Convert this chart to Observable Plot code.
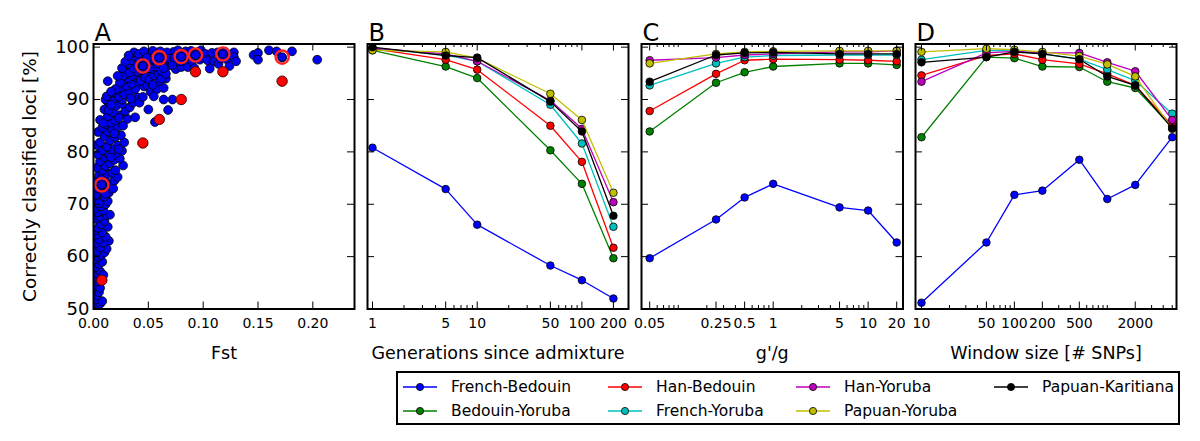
<!DOCTYPE html>
<html><head><meta charset="utf-8">
<script src="https://cdn.jsdelivr.net/npm/d3@7"></script>
<script src="https://cdn.jsdelivr.net/npm/@observablehq/plot@0.6"></script>
<style>
body{margin:0;background:#fff;font-family:"DejaVu Sans",sans-serif;}
#root{position:relative;width:1200px;height:441px;overflow:hidden;background:#fff;}
.panel{position:absolute;top:0;}
#legend{position:absolute;left:396px;top:371px;width:784px;height:54px;box-sizing:border-box;border:2px solid #000;}
.item{position:absolute;height:20px;display:flex;align-items:center;font-size:15.5px;white-space:nowrap;color:#000;}
.item svg{margin-right:14px;}
</style></head><body><div id="root"><div id="legend"></div></div>
<script>
// ---------------- data ----------------
const seriesNames = ["French-Bedouin","Bedouin-Yoruba","Han-Bedouin","French-Yoruba","Han-Yoruba","Papuan-Yoruba","Papuan-Karitiana"];
const palette = ["#0000ff","#008000","#ff0000","#00bfbf","#bf00bf","#bfbf00","#000000"];

const yTicks = [50,60,70,80,90,100];

// Panel A: Fst vs accuracy
const fstTicks = [0,0.05,0.10,0.15,0.20];
const scatterPoints = [
[0.001,50.5],[0.004,50.8],[0.006,51.0],[0.002,51.8],[0.008,51.5],[0.003,52.6],[0.001,53.5],[0.005,53.2],[0.002,54.4],[0.006,54.0],
[0.004,55.3],[0.001,56.0],[0.003,56.8],[0.006,57.2],[0.002,58.0],[0.005,58.6],[0.008,59.0],[0.001,59.5],[0.004,60.0],[0.007,60.3],
[0.009,56.5],[0.007,62.0],[0.014,63.0],
[0.003,61.0],[0.010,60.8],[0.012,61.5],[0.006,61.8],[0.002,62.5],[0.009,62.7],[0.005,63.3],[0.011,63.8],[0.003,64.2],[0.008,64.6],
[0.001,65.0],[0.004,65.5],[0.013,65.7],[0.007,66.2],[0.010,66.8],[0.002,67.2],[0.006,67.6],[0.012,67.9],[0.015,68.0],[0.004,68.5],
[0.009,68.8],[0.001,69.2],[0.007,69.6],[0.011,70.0],
[0.003,70.4],[0.013,70.6],[0.006,71.0],[0.010,71.5],[0.002,71.8],[0.014,72.2],[0.008,72.6],[0.004,73.0],[0.012,73.3],[0.008,73.7],
[0.016,74.0],[0.002,74.4],[0.010,74.7],[0.019,74.5],[0.022,75.2],[0.005,75.5],[0.013,75.8],[0.017,76.0],[0.008,76.5],[0.020,76.5],
[0.003,77.0],[0.011,77.3],[0.027,77.4],[0.015,77.8],[0.006,78.2],[0.019,78.5],[0.024,78.7],[0.010,79.0],[0.004,79.5],[0.014,79.5],
[0.021,79.8],[0.005,70.2],[0.011,72.0],[0.018,73.0],[0.007,74.8],[0.016,79.0],
[0.026,80.2],[0.008,80.3],[0.017,80.5],[0.012,81.0],[0.003,81.3],[0.022,81.2],[0.028,81.8],[0.006,81.8],[0.015,82.2],[0.020,82.8],
[0.010,83.0],[0.025,83.2],[0.004,83.8],[0.013,83.9],[0.017,84.3],[0.008,84.6],[0.022,84.8],[0.027,85.0],[0.011,85.3],[0.016,85.6],
[0.020,86.0],[0.031,86.3],[0.038,86.6],[0.006,86.1],[0.013,86.8],[0.024,87.0],[0.018,87.5],[0.029,87.8],[0.010,88.1],[0.015,88.6],
[0.021,88.8],[0.033,88.5],[0.026,89.2],[0.013,89.6],[0.018,90.0],[0.036,89.4],[0.014,88.0],[0.011,90.0],
[0.023,80.5],[0.019,83.5],[0.009,85.5],[0.023,86.5],[0.016,89.0],[0.026,90.0],
[0.040,90.4],[0.012,90.6],[0.023,90.5],[0.028,91.0],[0.017,91.3],[0.033,91.5],[0.021,91.8],[0.038,92.0],[0.025,92.3],[0.030,92.6],
[0.035,93.0],[0.013,93.5],[0.042,93.2],[0.028,93.8],[0.046,92.5],[0.032,94.0],[0.038,94.3],[0.044,94.0],[0.030,94.8],[0.049,92.7],
[0.052,91.5],[0.058,92.0],[0.064,92.2],[0.055,90.6],[0.050,88.1],[0.068,88.0],[0.064,90.0],[0.072,90.0],[0.056,85.7],[0.042,89.4],
[0.045,90.5],[0.060,93.5],[0.066,94.0],[0.048,95.0],[0.035,94.5],[0.039,95.4],[0.043,93.6],[0.047,94.2],[0.051,93.8],[0.055,94.6],
[0.059,95.0],[0.062,94.0],[0.054,92.8],[0.027,94.5],[0.024,93.2],[0.020,92.0],[0.016,91.5],[0.022,94.5],[0.034,90.2],
[0.030,95.8],[0.033,95.2],[0.036,96.0],[0.031,96.8],[0.034,97.5],[0.038,98.2],[0.040,96.5],[0.042,97.8],[0.044,95.6],[0.045,96.4],
[0.047,98.6],[0.050,97.0],[0.052,98.9],[0.053,95.8],[0.055,97.6],[0.057,96.3],[0.058,99.0],[0.060,98.0],[0.062,95.5],[0.063,97.1],
[0.065,98.6],[0.066,94.9],[0.068,96.4],[0.070,98.3],[0.071,97.0],[0.073,99.1],[0.075,95.8],[0.076,97.6],[0.078,98.9],[0.080,98.2],
[0.080,96.2],[0.082,97.4],[0.084,99.2],[0.086,96.2],[0.087,98.0],[0.089,99.3],[0.090,97.3],[0.092,96.0],[0.093,98.5],[0.095,99.0],
[0.097,97.6],[0.098,99.4],[0.100,98.0],[0.102,98.7],[0.104,97.5],[0.106,95.9],[0.108,98.9],[0.110,97.3],[0.113,99.0],[0.114,96.8],
[0.116,97.8],[0.118,98.7],[0.120,99.1],[0.122,97.6],[0.124,96.4],[0.126,98.4],[0.128,99.0],[0.128,98.1],[0.130,97.3],[0.146,98.5],
[0.150,98.9],[0.150,97.6],[0.160,99.4],[0.167,99.2],[0.172,98.0],[0.181,99.2],[0.204,97.6],[0.037,99.0],[0.041,98.7],[0.046,99.2],
[0.049,98.0],[0.051,96.0],[0.054,99.3],[0.056,98.4],[0.059,96.9],[0.061,99.2],[0.064,96.0],[0.067,99.0],[0.069,97.8],[0.072,96.6],
[0.074,98.0],[0.077,99.4],[0.079,97.3],[0.026,96.0],[0.029,97.2],[0.032,98.4]
];
const highlightPoints = [[0.0076,55.5],[0.045,81.7],[0.060,86.2],[0.080,90.0],[0.093,95.3],[0.118,95.3],[0.172,93.5]];
const ringPoints = [[0.0076,73.7],[0.045,96.4],[0.060,98.0],[0.080,98.2],[0.093,98.5],[0.118,98.7],[0.172,98.1]];

// Panel B: generations since admixture
const generations = [1,5,10,50,100,200];
const genTicks = [1,5,10,50,100,200];
const genMinor = [2,3,4,6,7,8,9,20,30,40,60,70,80,90];
const generationAcc = [
 [80.8,72.9,66.1,58.3,55.5,52.0],
 [99.4,96.3,94.1,80.3,73.9,59.7],
 [99.7,97.6,95.7,85.0,78.1,61.7],
 [99.8,98.5,97.3,89.0,81.6,65.7],
 [99.8,98.7,97.3,89.8,84.4,70.4],
 [99.4,99.1,97.9,91.1,86.1,72.2],
 [100.0,98.4,98.0,89.6,83.9,67.8]
];

// Panel C: g'/g
const ratios = [0.05,0.25,0.5,1,5,10,20];
const ratioTicks = [0.05,0.25,0.5,1,5,10,20];
const ratioMinor = [0.06,0.07,0.08,0.09,0.1,0.2,0.3,0.4,0.6,0.7,0.8,0.9,2,3,4,6,7,8,9];
const ratioAcc = [
 [59.7,67.1,71.3,73.9,69.4,68.8,62.7],
 [83.9,93.2,95.2,96.3,96.9,96.9,96.6],
 [87.8,94.9,97.5,97.7,97.6,97.5,97.3],
 [92.7,96.9,98.1,98.4,98.5,98.5,98.5],
 [97.5,98.0,98.5,98.7,99.1,99.1,99.3],
 [96.9,98.7,99.1,99.2,99.3,99.3,99.3],
 [93.4,98.5,98.9,99.0,98.7,98.7,98.7]
];

// Panel D: window size
const windows = [10,50,100,200,500,1000,2000,5000];
const windowTicks = [10,50,100,200,500,2000];
const windowMinor = [20,30,40,60,70,80,90,300,400,600,700,800,900,1000,3000,4000,5000];
const windowAcc = [
 [51.2,62.7,71.8,72.6,78.5,71.0,73.7,82.8],
 [82.8,98.1,97.9,96.3,96.2,93.4,92.2,84.7],
 [94.6,98.4,98.7,97.6,96.8,94.9,92.7,85.0],
 [97.6,99.4,99.3,98.7,97.7,95.7,93.6,87.3],
 [93.4,98.9,99.2,98.9,98.9,97.1,95.4,86.1],
 [99.1,99.7,99.5,99.1,98.3,96.7,94.4,84.4],
 [97.1,98.1,99.1,98.7,97.7,94.4,92.7,84.5]
];

const yTitle = "Correctly classified loci [%]";

// ---------------- drawing ----------------
const root = document.getElementById("root");
const H = 370, MT = 43.5, MB = 61.5, PH = H - MT - MB;
const yScale = {domain: [50, 100.6]};
const baseStyle = {fontFamily: "DejaVu Sans", fontSize: "14px", background: "transparent", color: "#000", overflow: "visible"};

function frameMarks(xMajor, xMinor, PW) {
  const k = {stroke: "#000", strokeWidth: 1};
  return [
    Plot.tickX(xMajor, {x: d => d, insetTop: PH - 7, ...k}),
    Plot.tickX(xMajor, {x: d => d, insetBottom: PH - 7, ...k}),
    Plot.tickX(xMinor, {x: d => d, insetTop: PH - 3.5, ...k}),
    Plot.tickX(xMinor, {x: d => d, insetBottom: PH - 3.5, ...k}),
    Plot.tickY(yTicks, {y: d => d, insetRight: PW - 7, ...k}),
    Plot.tickY(yTicks, {y: d => d, insetLeft: PW - 7, ...k}),
    Plot.frame({stroke: "#000", strokeWidth: 2})
  ];
}
function tickLabels(ticks, fmt) {
  return Plot.text(ticks, {x: d => d, text: fmt, frameAnchor: "bottom", lineAnchor: "top", textAnchor: "middle", dy: 9.5, fontSize: 14});
}
function letterMark(t) {
  return Plot.text([t], {frameAnchor: "top-left", text: d => d, fontSize: 24, lineAnchor: "bottom", textAnchor: "start", dy: -3.5, dx: 1});
}
function titleMark(t) {
  return Plot.text([t], {frameAnchor: "bottom", text: d => d, fontSize: 17.5, lineAnchor: "middle", dy: 44});
}
function place(svg, left) {
  const d = document.createElement("div");
  d.className = "panel"; d.style.left = left + "px";
  d.appendChild(svg); root.appendChild(d);
}

// Panel A
{
  const W = 360, ML = 93, MR = 6, PW = W - ML - MR;
  const toObj = ([f, a]) => ({fst: f, acc: a});
  const svg = Plot.plot({
    width: W, height: H, marginLeft: ML, marginRight: MR, marginTop: MT, marginBottom: MB,
    style: baseStyle,
    x: {domain: [0, 0.238], axis: null},
    y: yScale,
    marks: [
      Plot.dot(scatterPoints.map(toObj), {x: "fst", y: "acc", r: 4.4, fill: "#0000f0", stroke: "#000", strokeWidth: 0.8, clip: true}),
      Plot.dot(ringPoints.map(toObj), {x: "fst", y: "acc", r: 6.6, fill: "none", stroke: "#ff2020", strokeWidth: 2.4, clip: true}),
      Plot.dot(ringPoints.map(toObj), {x: "fst", y: "acc", r: 4.2, fill: "#0000f0", stroke: "#000", strokeWidth: 0.8, clip: true}),
      Plot.dot(highlightPoints.map(toObj), {x: "fst", y: "acc", r: 5.2, fill: "#ff0000", stroke: "#3a0000", strokeWidth: 0.9, clip: true}),
      ...frameMarks(fstTicks, [], PW),
      tickLabels(fstTicks, d3.format(".2f")),
      Plot.axisY(yTicks, {tickSize: 0, tickPadding: 4, fontSize: 18, label: null}),
      Plot.text([yTitle], {frameAnchor: "left", text: d => d, rotate: -90, fontSize: 18.5, textAnchor: "middle", lineAnchor: "middle", dx: -63}),
      titleMark("Fst"),
      letterMark("A")
    ]
  });
  place(svg, 0);
}

function linePanel(xs, rows, opt) {
  const W = 280, PW = W - opt.ml - opt.mr;
  const marks = [];
  rows.forEach((vals, s) => {
    const pts = xs.map((x, i) => ({x, y: vals[i], series: seriesNames[s]}));
    marks.push(Plot.line(pts, {x: "x", y: "y", stroke: "series", strokeWidth: 1.3}));
    marks.push(Plot.dot(pts, {x: "x", y: "y", fill: "series", r: 3.8, stroke: "#000", strokeWidth: 0.8}));
  });
  const svg = Plot.plot({
    width: W, height: H, marginLeft: opt.ml, marginRight: opt.mr, marginTop: MT, marginBottom: MB,
    style: baseStyle,
    x: {type: "log", domain: opt.domain, axis: null},
    y: {...yScale, axis: null},
    color: {domain: seriesNames, range: palette},
    marks: [
      ...marks,
      ...frameMarks(opt.major, opt.minor, PW),
      tickLabels(opt.major, d => String(d)),
      titleMark(opt.title),
      letterMark(opt.letter)
    ]
  });
  place(svg, opt.left);
}

linePanel(generations, generationAcc, {left: 360, ml: 7, mr: 12, domain: [0.896, 278.6], major: genTicks, minor: genMinor, title: "Generations since admixture", letter: "B"});
linePanel(ratios, ratioAcc, {left: 634, ml: 7, mr: 11.5, domain: [0.041, 23.3], major: ratioTicks, minor: ratioMinor, title: "g'/g", letter: "C"});
linePanel(windows, windowAcc, {left: 908, ml: 7, mr: 12, domain: [8.62, 5560], major: windowTicks, minor: windowMinor, title: "Window size [# SNPs]", letter: "D"});

// Legend (4 columns x 2 rows, column-major order)
const legend = document.getElementById("legend");
const colX = [5, 210, 398, 596];
const rowY = [4, 28];
seriesNames.forEach((name, i) => {
  const col = Math.floor(i / 2), row = i % 2;
  const it = document.createElement("div");
  it.className = "item";
  it.style.left = colX[col] + "px";
  it.style.top = rowY[row] + "px";
  it.innerHTML = `<svg width="34" height="10"><line x1="0" x2="34" y1="5" y2="5" stroke="${palette[i]}" stroke-width="1.3"/><circle cx="17" cy="5" r="3.6" fill="${palette[i]}" stroke="#000" stroke-width="0.8"/></svg><span>${name}</span>`;
  legend.appendChild(it);
});
</script></body></html>
